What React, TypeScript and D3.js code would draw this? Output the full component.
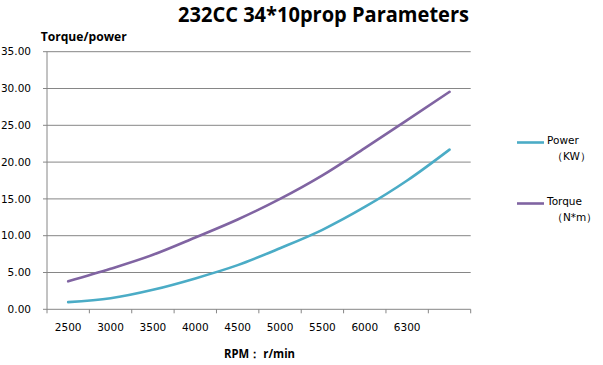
import React from "react";
import * as d3 from "d3";

const categories = ["2500", "3000", "3500", "4000", "4500", "5000", "5500", "6000", "6300", ""];
const powerValues = [0.98, 1.5, 2.65, 4.2, 6.0, 8.3, 10.8, 13.9, 17.5, 21.7];
const torqueValues = [3.8, 5.5, 7.4, 9.75, 12.2, 15.0, 18.2, 21.9, 25.7, 29.55];
const yTicks = [0, 5, 10, 15, 20, 25, 30, 35];

const W = 603;
const H = 365;
const FONT = "'DejaVu Sans', sans-serif";
const BOLD = "'Open Sans', sans-serif";
const BLUE = "#4BACC6";
const PURPLE = "#8064A2";
const GRID = "#868686";

export default function App() {
  const left = 47;
  const right = 470.7;
  const top = 51.7;
  const bottom = 309.3;
  const idx = categories.map((_, i) => i);
  const x = d3.scaleBand<number>().domain(idx).range([left, right]).padding(0);
  const y = d3.scaleLinear().domain([0, 35]).range([bottom, top]);
  const cx = (i: number) => (x(i) as number) + x.bandwidth() / 2;

  const line = d3
    .line<number>()
    .x((_, i) => cx(i))
    .y((d) => y(d))
    .curve(d3.curveMonotoneX);

  const bounds = idx.map((i) => x(i) as number).concat([right]);

  return (
    <svg width={W} height={H} style={{ position: "absolute", left: 0, top: 0, background: "#fff" }}>
      <rect x={0} y={0} width={W} height={H} fill="#fff" />
      <text
        x={178}
        y={21.7}
        fontFamily={BOLD}
        fontWeight="bold"
        fontSize={20.5}
        textLength={291}
        lengthAdjust="spacingAndGlyphs"
        fill="#000"
      >
        232CC 34*10prop Parameters
      </text>
      <text
        x={40.7}
        y={40.7}
        fontFamily={BOLD}
        fontWeight="bold"
        fontSize={13}
        textLength={86}
        lengthAdjust="spacingAndGlyphs"
        fill="#000"
      >
        Torque/power
      </text>

      {yTicks.map((t) => (
        <g key={t}>
          {t > 0 && <line x1={left} x2={right} y1={y(t)} y2={y(t)} stroke={GRID} strokeWidth={1} />}
          <line x1={left - 4} x2={left} y1={y(t)} y2={y(t)} stroke={GRID} strokeWidth={1} />
          <text
            x={31}
            y={y(t)}
            dy="0.36em"
            textAnchor="end"
            fontFamily={FONT}
            fontSize={10.5}
            fill="#000"
          >
            {t.toFixed(2)}
          </text>
        </g>
      ))}
      <line x1={left} x2={left} y1={top} y2={bottom} stroke={GRID} strokeWidth={1} />
      <line x1={left} x2={right} y1={bottom} y2={bottom} stroke={GRID} strokeWidth={1} />
      {bounds.map((b, i) => (
        <line key={i} x1={b} x2={b} y1={bottom} y2={bottom + 4} stroke={GRID} strokeWidth={1} />
      ))}
      {categories.map((c, i) => (
        <text key={i} x={cx(i)} y={331} textAnchor="middle" fontFamily={FONT} fontSize={10.5} fill="#000">
          {c}
        </text>
      ))}
      <text
        x={224}
        y={358}
        fontFamily={BOLD}
        fontWeight="bold"
        fontSize={12}
        textLength={71}
        lengthAdjust="spacingAndGlyphs"
        fill="#000"
      >
        RPM： r/min
      </text>

      <path d={line(powerValues) || ""} fill="none" stroke={BLUE} strokeWidth={2.6} strokeLinecap="round" />
      <path d={line(torqueValues) || ""} fill="none" stroke={PURPLE} strokeWidth={2.6} strokeLinecap="round" />

      <line x1={517} x2={544} y1={142.5} y2={142.5} stroke={BLUE} strokeWidth={2.6} />
      <text x={547} y={144} fontFamily={FONT} fontSize={10.5} fill="#000">Power</text>
      <text x={552} y={160} fontFamily={FONT} fontSize={10.5} fill="#000">（KW）</text>
      <line x1={517} x2={544} y1={203.5} y2={203.5} stroke={PURPLE} strokeWidth={2.6} />
      <text x={547} y={205} fontFamily={FONT} fontSize={10.5} fill="#000">Torque</text>
      <text x={552} y={221} fontFamily={FONT} fontSize={10.5} fill="#000">（N*m）</text>
    </svg>
  );
}
